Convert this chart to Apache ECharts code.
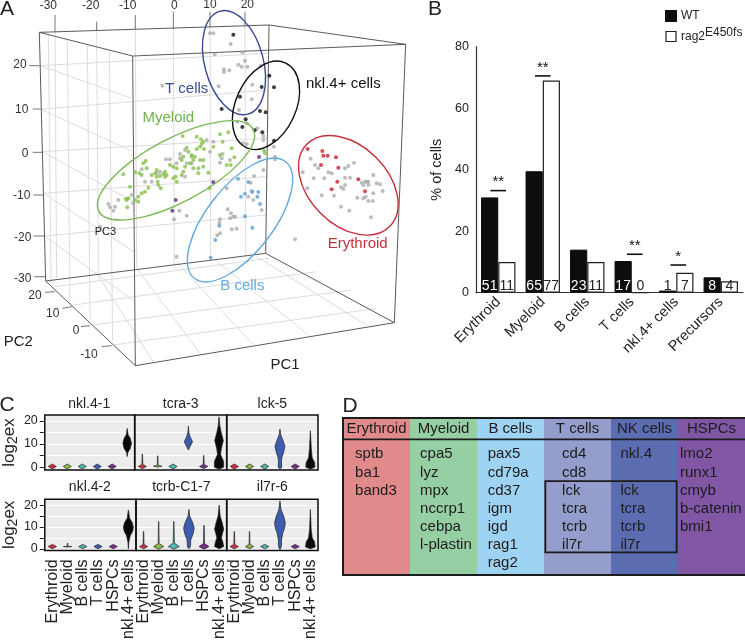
<!DOCTYPE html>
<html><head><meta charset="utf-8">
<style>html,body{margin:0;padding:0;background:#fff}#c{width:745px;height:642px}</style>
<script src="https://cdn.jsdelivr.net/npm/echarts@6/dist/echarts.min.js"></script>
</head><body><div id="c"></div>
<script>
// ---------- Panel A: projected PCA view (picture units) ----------
const greyCells=[[630,100],[640,100],[692,132],[644,163],[727,157],[735,182],[715,194],[725,200],[742,200],[672,208],[688,211],[672,216],[782,198],[656,259],[487,257],[757,254],[755,298],[717,330],[712,365],[740,370],[790,408],[790,420],[740,432],[728,430],[772,385],[822,440],[825,470],[825,478],[790,510],[762,528],[752,548],[680,565],[755,574],[745,590],[760,600],[785,630],[683,628],[693,640],[690,655],[660,658],[658,668],[700,650],[705,650],[695,688],[710,686],[660,700],[652,706],[530,770],[885,718],[522,658],[538,632],[560,647],[300,680],[325,612],[330,622],[345,620],[340,632],[355,600],[395,585],[400,610],[425,508],[435,545],[455,545],[498,478],[510,478],[540,462],[530,490],[555,450],[560,490],[540,475],[620,420],[640,425],[630,455],[660,488],[665,475],[668,462],[690,480],[555,530],[575,490],[470,520],[480,515],[932,476],[945,495],[955,505],[908,517],[985,517],[995,520],[941,535],[973,535],[1035,533],[1050,533],[1062,488],[1045,498],[1035,505],[1120,525],[1095,545],[1100,545],[1105,545],[1085,548],[1090,555],[1105,555],[1130,550],[1140,553],[1148,573],[1120,580],[1097,590],[1072,593],[1090,595],[1105,603],[1118,603],[1023,562],[1030,567],[1035,555],[965,586],[1002,587],[1023,620],[1048,632],[1113,652],[922,565]];
const greenCells=[[370,523],[390,560],[405,517],[418,520],[425,525],[430,490],[437,483],[440,505],[470,510],[465,520],[470,530],[455,525],[480,528],[490,522],[495,515],[510,495],[520,500],[530,505],[548,408],[590,410],[603,418],[610,425],[605,432],[600,440],[612,447],[590,447],[560,443],[565,455],[575,465],[585,470],[600,480],[610,480],[580,480],[570,490],[545,480],[555,500],[550,515],[545,525],[527,530],[520,535],[530,545],[500,525],[495,530],[580,505],[595,505],[610,500],[625,518],[595,520],[660,403],[685,397],[668,425],[640,440],[660,465],[695,445],[703,472],[680,495],[692,495],[473,545],[475,555],[482,565],[445,563],[435,575],[425,580],[415,590],[405,600],[415,605],[385,595],[378,597],[382,622],[380,600],[628,565],[575,470],[550,470],[792,452],[795,460]];
const purpleCells=[[777,471],[640,547],[527,600],[517,632]];
const blueCells=[[714,536],[745,546],[735,581],[723,590],[757,575],[775,576],[772,590],[780,612],[735,649],[757,683],[658,677],[646,720],[632,773]];
const blackCells=[[700,104],[808,227],[785,261],[822,262],[720,290],[665,327],[780,333],[797,337],[737,358],[727,381],[764,391],[787,397],[822,422]];
const redCells=[[923,447],[967,453],[970,467],[983,467],[1008,472],[963,495],[1015,503],[1075,538],[1012,545],[995,568],[1095,574]];
// cx, cy, semi-major, semi-minor, angle(deg), colour
const clusterEllipses=[[702,188,160,88,105,'#3c4a94'],[798,316,140,90,65,'#111111'],[528,511,262,95,28,'#7cb855'],[720,660,222,100,52,'#62aadf'],[1045,556,175,118,-45,'#c5303b']];
const boxEdges=[[118,97,398,168],[398,168,1217,133],[1217,133,807,75],[807,75,118,97],[137,843,406,1097],[406,1097,1183,968],[1183,968,797,760],[797,760,137,843],[118,97,137,843],[398,168,406,1097],[1217,133,1183,968],[807,75,797,760]];
const wallLines=[[145,104,153,850],[202,118,210,904],[262,133,270,961],[328,150,338,1023],
 [165,95,170,835],[290,90,295,820],[406,85,410,805],[520,85,523,795],[630,80,632,780],[735,78,737,770],
 [120,197,395,295],[123,328,395,453],[127,455,400,605],[130,580,402,755],[133,708,405,905],
 [120,197,803,160],[123,328,802,270],[127,455,801,415],[130,580,800,530],[133,708,798,645],
 [165,860,805,775],[220,915,950,815],[280,975,1055,870],[340,1035,1130,925],
 [410,805,600,1060],[290,820,460,1085],[530,785,760,1035],[645,780,925,1005],[770,770,1100,975]];
const axisTicks3d=[[165,45,165,97],[290,65,290,92],[406,45,406,87],[520,35,520,87],[630,35,630,82],[735,35,735,80],
 [88,197,118,197],[98,327,122,327],[98,457,127,457],[100,585,130,585],[100,708,133,708],[103,830,135,830],
 [135,877,165,875],[187,925,215,920],[243,980,270,977],[305,1040,335,1037]];
const axisLabels3d=[[145,17,'-30'],[272,17,'-20'],[383,17,'-10'],[523,17,'0'],[630,15,'10'],[742,15,'20'],
 [60,193,'20'],[65,330,'10'],[75,460,'0'],[65,587,'-10'],[68,712,'-20'],[68,835,'-30'],
 [105,887,'20'],[158,942,'10'],[228,992,'0'],[267,1063,'-10']];
const clusterLabels=[[560,267,'T cells','#3c4a94'],[505,355,'Myeloid','#6fb24e'],[1030,253,'nkl.4+ cells','#111111'],[1073,732,'Erythroid','#c5303b'],[727,858,'B cells','#62aadf']];
const pcLabels=[[316,697,'PC3',11],[55,1027,'PC2',15],[855,1094,'PC1',15]];

// ---------- Panel B ----------
const populations=['Erythroid','Myeloid','B cells','T cells','nkl.4+ cells','Precursors'];
const wtPercent=[31,39.5,14,10.3,0.7,5];
const ragPercent=[10,69,10,0,6.5,3.7];
const wtCounts=[51,65,23,17,1,8];
const ragCounts=[11,77,11,0,7,4];
const significance=[['Erythroid',33.2,'**',0],['Myeloid',70.5,'**',0],['T cells',12.5,'**',3],['nkl.4+ cells',9,'*',2]];

// ---------- Panel C: violin outlines as [log2ex, half width in category bands] ----------
const violinGroups=['Erythroid','Myeloid','B cells','T cells','HSPCs','nkl.4+ cells'];
const violinColors=['#d42c3c','#8ab84a','#4fb8ad','#3f5bb0','#7b2d8e','#0a0a0a'];
const dotTop=[[-0.8,0],[0.3,.27],[1.4,0]];
const dotBot=[[0,0],[1,.27],[2,0]];
const nkl41=[dotTop,dotTop,dotTop,dotTop,dotTop,
 [[4.6,0],[6.5,.05],[8,.2],[10.3,.29],[12.5,.2],[14,.06],[16.7,0]]];
const tcra3=[[[-0.6,0],[0.3,.27],[1.2,.03],[5.7,.01],[5.7,0]],[[0,0],[0.4,.28],[0.8,.03],[4.9,.01],[4.9,0]],dotTop,
 [[7.4,0],[9,.12],[11,.27],[13,.12],[15,.03],[17.7,0]],
 [[-0.6,0],[0.3,.27],[1.2,.03],[5.1,.01],[5.1,0]],
 [[-0.8,0],[0,.3],[2.5,.3],[5.5,.1],[8,.15],[11.5,.28],[15,.14],[18,.05],[21.7,0]]];
const lck5=[dotTop,dotTop,dotTop,
 [[-0.8,0],[0,.12],[2,.1],[4,.12],[6.5,.24],[9,.33],[11.5,.2],[14,.05],[16.5,0]],dotTop,
 [[-0.8,0],[0,.3],[2,.28],[4,.12],[8,.06],[12,.03],[15.7,0]]];
const nkl42=[dotBot,[[0.8,0],[1,.28],[1.2,.02],[2.6,.01],[2.6,0]],dotBot,dotBot,dotBot,
 [[0,0],[3,.03],[6,.12],[8,.28],[10,.33],[12,.25],[14,.08],[17.8,0]]];
const tcrbC17=[[[0,0],[1,.27],[2,.03],[7.9,.01],[7.9,0]],[[-0.2,0],[1,.33],[2.4,.03],[12.5,.01],[12.5,0]],[[-0.2,0],[1,.36],[2.6,.04],[12.5,.01],[12.5,0]],
 [[0,0],[1,.1],[4,.12],[7,.28],[9.5,.35],[12,.25],[15,.05],[18,0]],
 [[-0.2,0],[1,.33],[2.4,.03],[10.7,.01],[10.7,0]],
 [[0,0],[1,.3],[3,.25],[5,.15],[7,.22],[9,.3],[12,.2],[15,.07],[20,0]]];
const il7r6=[[[0,0],[1,.27],[2,.03],[7.9,.01],[7.9,0]],[[0,0],[1,.27],[2,.03],[7.9,.01],[7.9,0]],dotBot,
 [[-0.5,0],[1,.1],[4,.1],[7,.18],[10,.32],[12,.35],[15,.24],[18,.07],[22,0]],dotBot,
 [[0,0],[0.8,.32],[3,.28],[5,.12],[9,.05],[13,.03],[18,0]]];
const violinPanels=[['nkl.4-1',nkl41],['tcra-3',tcra3],['lck-5',lck5],['nkl.4-2',nkl42],['tcrb-C1-7',tcrbC17],['il7r-6',il7r6]];

// ---------- Panel D ----------
const tableHeaders=['Erythroid','Myeloid','B cells','T cells','NK cells','HSPCs'];
const tableGenes=[['sptb','ba1','band3'],['cpa5','lyz','mpx','nccrp1','cebpa','l-plastin'],['pax5','cd79a','cd37','igm','igd','rag1','rag2'],['cd4','cd8','lck','tcra','tcrb','il7r'],['nkl.4','','lck','tcra','tcrb','il7r'],['lmo2','runx1','cmyb','b-catenin','bmi1']];
const tableColors=['#e08a8b','#97cfa5','#9fd3f4','#949dcb','#5b6cb1','#8056a5'];

// ---------- layout ----------
const FONT='"Liberation Sans",Arial,sans-serif', INK='#222';
const grids=[],xAxes=[],yAxes=[],series=[],graphic=[];
function addGrid(g,x,y){grids.push(g);x.gridIndex=y.gridIndex=grids.length-1;xAxes.push(x);yAxes.push(y);return grids.length-1;}
const hidden={show:false};
function txt(text,x,y,size,fill,align){graphic.push({type:'text',silent:true,x,y,style:{text,font:size+'px '+FONT,fill:fill||INK,align:align||'center',verticalAlign:'middle'}});}

// Panel A
const gA=addGrid({left:0,top:0,width:420,height:380},{type:'value',min:0,max:1260,...hidden},{type:'value',min:0,max:1140,inverse:true,...hidden});
function segments(arr,color,w,z){series.push({type:'custom',name:'segments',xAxisIndex:gA,yAxisIndex:gA,silent:true,z,clip:false,
  data:arr.map(s=>[s[0],s[1],s[2],s[3]]),
  renderItem:(p,api)=>{const a=api.coord([api.value(0),api.value(1)]),b=api.coord([api.value(2),api.value(3)]);
    return {type:'line',shape:{x1:a[0],y1:a[1],x2:b[0],y2:b[1]},style:{stroke:color,lineWidth:w}};}});}
segments(wallLines,'#d8d8d8',0.9,1);
segments(boxEdges,'#5a5a5a',1,2);
segments(axisTicks3d,'#666',0.9,2);
function scatter(data,color){series.push({type:'scatter',xAxisIndex:gA,yAxisIndex:gA,data,symbolSize:4,z:4,silent:true,itemStyle:{color}});}
scatter(greyCells,'#adadad');scatter(greenCells,'#88bf4c');scatter(purpleCells,'#5d2a83');scatter(blueCells,'#5c9fd8');scatter(blackCells,'#0c0c0c');scatter(redCells,'#c8202e');
series.push({type:'custom',xAxisIndex:gA,yAxisIndex:gA,silent:true,z:5,clip:false,data:clusterEllipses.map(e=>[e[0],e[1]]),
  renderItem:(p,api)=>{const e=clusterEllipses[p.dataIndex],c=api.coord([e[0],e[1]]),u=api.size([1,1])[0];
   return {type:'ellipse',x:c[0],y:c[1],rotation:e[4]*Math.PI/180,shape:{cx:0,cy:0,rx:e[2]*u,ry:e[3]*u},style:{fill:'none',stroke:e[5],lineWidth:1.4}};}});
function labelsA(items,size,colorOf){series.push({type:'custom',xAxisIndex:gA,yAxisIndex:gA,silent:true,z:6,clip:false,data:items.map(t=>[t[0],t[1]]),
  renderItem:(p,api)=>{const t=items[p.dataIndex],c=api.coord([t[0],t[1]]);
   return {type:'text',x:c[0],y:c[1],style:{text:t[2],font:(typeof t[3]==='number'?t[3]:size)+'px '+FONT,fill:colorOf(t),align:'center',verticalAlign:'middle'}};}});}
labelsA(axisLabels3d,12,()=>'#333');
labelsA(clusterLabels,15,t=>t[3]);
labelsA(pcLabels,15,()=>INK);

// Panel B
const gB=addGrid({left:476,top:46.7,width:267,height:246},
 {type:'category',data:populations,axisLine:{lineStyle:{color:'#333',width:1.2}},axisTick:hidden,
  axisLabel:{interval:0,rotate:45,fontSize:14.5,color:INK,fontFamily:FONT,margin:7}},
 {type:'value',min:0,max:80,interval:20,name:'% of cells',nameLocation:'middle',nameGap:32,nameTextStyle:{fontSize:14.5,color:INK,fontFamily:FONT},
  axisLine:{show:true,lineStyle:{color:'#333',width:1.2}},axisTick:hidden,splitLine:hidden,axisLabel:{fontSize:12.5,color:INK,fontFamily:FONT,margin:7}});
const countLabel=(counts,light)=>({show:true,position:'insideBottom',distance:0,fontSize:14,fontFamily:FONT,
  formatter:p=>String(counts[p.dataIndex]),color:light});
series.push({type:'bar',name:'WT',xAxisIndex:gB,yAxisIndex:gB,barWidth:17.2,barGap:0,z:3,
  itemStyle:{color:'#0d0d0d',borderColor:'#0d0d0d',borderWidth:1},
  data:wtPercent.map((v,i)=>({value:v,label:{color:populations[i]==='nkl.4+ cells'?'#222':'#fff'}})),
  label:countLabel(wtCounts,'#fff')});
series.push({type:'bar',name:'rag2',xAxisIndex:gB,yAxisIndex:gB,barWidth:17.2,barGap:0,z:3,
  itemStyle:{color:'#fff',borderColor:'#222',borderWidth:1.2},data:ragPercent,label:countLabel(ragCounts,'#222')});
series.push({type:'custom',xAxisIndex:gB,yAxisIndex:gB,silent:true,z:4,clip:false,data:significance.map(s=>[s[0],s[1]]),
  renderItem:(p,api)=>{const s=significance[p.dataIndex],c=api.coord([populations.indexOf(s[0]),s[1]]),cx=c[0]+s[3];
   return {type:'group',children:[
     {type:'line',shape:{x1:cx-7.8,y1:c[1],x2:cx+7.8,y2:c[1]},style:{stroke:'#111',lineWidth:1.6}},
     {type:'text',x:cx,y:c[1]-1,style:{text:s[2],font:'15px '+FONT,fill:'#111',align:'center',verticalAlign:'bottom'}}]};}});

// Panel C
const colX=[[43.7,91],[134.7,92],[226.7,91.3],[43.7,92.3],[136,90.7],[226.7,91.3]];
violinPanels.forEach((panel,k)=>{
  const top=k<3, left=k%3===0, [gx,gw]=colX[k], gt=top?415:499.3, gh=top?55:54.7;
  const g=addGrid({show:true,left:gx,top:gt,width:gw,height:gh,backgroundColor:'#ececec',borderWidth:0},
   {type:'category',data:violinGroups,axisLine:hidden,axisTick:hidden,
    axisLabel:top?hidden:{interval:0,rotate:90,fontSize:16,color:INK,fontFamily:FONT,margin:9}},
   {type:'value',min:top?-1.2:-0.75,max:top?22.5:22.7,
    name:left?'log{s|2}ex':'',nameLocation:'middle',nameGap:24,nameTextStyle:{fontSize:17,color:INK,fontFamily:FONT,rich:{s:{fontSize:14,verticalAlign:'top',padding:[7,0,0,0],fontFamily:FONT,color:INK}}},
    axisLine:hidden,
    axisTick:{show:left,length:5,lineStyle:{color:'#222'},customValues:[0,5,10,15,20]},
    axisLabel:left?{fontSize:12.5,color:INK,fontFamily:FONT,margin:7,customValues:[0,10,20]}:{show:false,customValues:[0,10,20]},
    splitLine:{show:true,lineStyle:{color:'#fff',width:1}}});
  txt(panel[0],gx+gw/2,top?404:487,14);
  series.push({type:'custom',xAxisIndex:g,yAxisIndex:g,silent:true,z:3,clip:true,data:panel[1].map((_,i)=>[i,0]),
    renderItem:(p,api)=>{const prof=panel[1][p.dataIndex],i=p.dataIndex,band=api.size([1,0])[0],pts=[];
      prof.forEach(q=>{const c=api.coord([i,q[0]]);pts.push([c[0]-q[1]*band,c[1]]);});
      prof.slice().reverse().forEach(q=>{const c=api.coord([i,q[0]]);pts.push([c[0]+q[1]*band,c[1]]);});
      return {type:'polygon',shape:{points:pts},style:{fill:violinColors[i],stroke:'#222',lineWidth:0.7}};}});
  series.push({type:'custom',xAxisIndex:g,yAxisIndex:g,silent:true,z:4,clip:false,data:[[0,0]],
    renderItem:p=>{const s=p.coordSys;return {type:'rect',shape:{x:s.x,y:s.y,width:s.width,height:s.height},style:{fill:'none',stroke:'#0d0d0d',lineWidth:1.5}};}});
});
const rowsTop=-2, rowsBottom=6.65;

// Panel D
const gD=addGrid({left:343,top:418,width:402,height:157},{type:'value',min:0,max:6,...hidden},{type:'value',min:rowsTop,max:rowsBottom,inverse:true,...hidden});
series.push({type:'custom',xAxisIndex:gD,yAxisIndex:gD,silent:true,z:1,clip:false,data:tableColors.map((_,i)=>[i,0]),
  renderItem:(p,api)=>{const i=p.dataIndex,a=api.coord([i,rowsTop]),b=api.coord([i+1,rowsBottom]);
    return {type:'rect',shape:{x:a[0],y:a[1],width:b[0]-a[0],height:b[1]-a[1]},style:{fill:tableColors[i]}};}});
const tableFrames=[[0,rowsTop,6.05,rowsBottom,2],[3.02,1.48,4.98,5.4,1.8]];
series.push({type:'custom',xAxisIndex:gD,yAxisIndex:gD,silent:true,z:3,clip:false,data:tableFrames.map(f=>[f[0],f[1],f[2],f[3]]),
  renderItem:(p,api)=>{const f=tableFrames[p.dataIndex],a=api.coord([f[0],f[1]]),b=api.coord([f[2],f[3]]);
    return {type:'rect',shape:{x:a[0],y:a[1],width:b[0]-a[0],height:b[1]-a[1]},style:{fill:'none',stroke:'#1c1c1c',lineWidth:f[4]}};}});
series.push({type:'custom',xAxisIndex:gD,yAxisIndex:gD,silent:true,z:3,clip:false,data:[[0,-0.82]],
  renderItem:(p,api)=>{const a=api.coord([0,-0.82]),b=api.coord([6,-0.82]);
    return {type:'line',shape:{x1:a[0],y1:a[1],x2:b[0],y2:b[1]},style:{stroke:'#1c1c1c',lineWidth:1.6}};}});
const headerCells=tableHeaders.map((h,i)=>[i+0.5,-1.4,h,'center']);
const geneLeft=[0.18,0.15,0.16,0.27,0.14,0.03];
const geneCells=[];
tableGenes.forEach((col,i)=>col.forEach((g,r)=>{if(g)geneCells.push([i+geneLeft[i],r,g,'left']);}));
const allCells=headerCells.concat(geneCells);
series.push({type:'custom',xAxisIndex:gD,yAxisIndex:gD,silent:true,z:4,clip:false,data:allCells.map(c=>[c[0],c[1]]),
  renderItem:(p,api)=>{const t=allCells[p.dataIndex],c=api.coord([t[0],t[1]]);
    return {type:'text',x:c[0],y:c[1],style:{text:t[2],font:'15px '+FONT,fill:'#1c1c1c',align:t[3],verticalAlign:'middle'}};}});

// panel letters
txt('A',7,9.5,21);txt('B',435,9.5,21);txt('C',7,405,21);txt('D',350,406,21);

echarts.init(document.getElementById('c'),null,{renderer:'canvas'}).setOption({
  animation:false,backgroundColor:'#fff',textStyle:{fontFamily:FONT},
  grid:grids,xAxis:xAxes,yAxis:yAxes,series,graphic,
  legend:{orient:'vertical',left:660,top:5,itemWidth:10,itemHeight:10,itemGap:5,icon:'rect',
    data:[{name:'WT',itemStyle:{color:'#0d0d0d',borderColor:'#0d0d0d'}},{name:'rag2',itemStyle:{color:'#fff',borderColor:'#222',borderWidth:1.2}}],selectedMode:false,
    formatter:n=>n==='WT'?'WT':'rag2{sup|E450fs}',
    textStyle:{fontSize:12,color:INK,fontFamily:FONT,rich:{sup:{fontSize:12,verticalAlign:'bottom',padding:[0,0,7,0],color:INK,fontFamily:FONT}}}}
});
</script></body></html>
